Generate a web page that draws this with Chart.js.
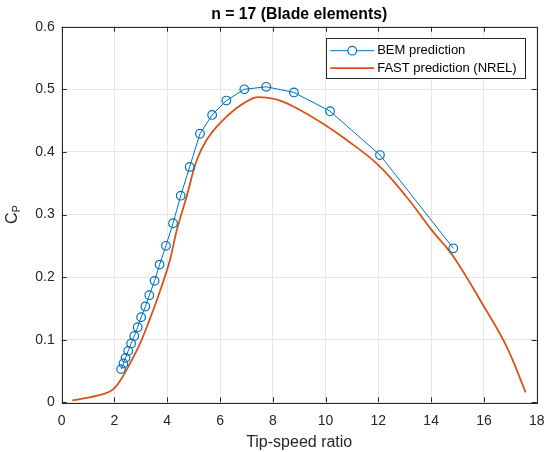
<!DOCTYPE html>
<html>
<head>
<meta charset="utf-8">
<script src="https://cdn.jsdelivr.net/npm/chart.js@4"></script>
<style>
  html, body { margin: 0; padding: 0; background: #fff; }
  #c { display: block; }
</style>
</head>
<body>
<canvas id="c" width="550" height="452"></canvas>
<script>
// ── Data ──────────────────────────────────────────────────────────────────────
const bemTsr = [2.25, 2.34, 2.42, 2.52, 2.63, 2.75, 2.88, 3.01, 3.17, 3.32, 3.52, 3.71, 3.95, 4.22, 4.51, 4.85, 5.24, 5.70, 6.24, 6.92, 7.75, 8.80, 10.17, 12.06, 14.84];
const bemCp  = [0.053, 0.062, 0.071, 0.082, 0.094, 0.106, 0.120, 0.136, 0.153, 0.171, 0.194, 0.220, 0.250, 0.286, 0.330, 0.376, 0.429, 0.459, 0.482, 0.500, 0.504, 0.495, 0.465, 0.395, 0.246];

const fastTsr = [0.4, 1.58, 1.96, 2.27, 2.59, 2.97, 3.35, 3.72, 4.10, 4.36, 4.73, 5.12, 5.49, 6.0, 6.63, 7.26, 7.64, 8.27, 9.03, 9.98, 10.8, 12.0, 13.07, 14.02, 14.84, 16.0, 16.86, 17.58];
const fastCp  = [0.003, 0.013, 0.021, 0.038, 0.062, 0.094, 0.134, 0.177, 0.227, 0.275, 0.328, 0.387, 0.419, 0.446, 0.470, 0.486, 0.487, 0.482, 0.467, 0.443, 0.419, 0.379, 0.328, 0.275, 0.233, 0.153, 0.089, 0.016];

const xTicks = [0, 2, 4, 6, 8, 10, 12, 14, 16, 18];
const yTicks = [0, 0.1, 0.2, 0.3, 0.4, 0.5, 0.6];

const TITLE  = 'n = 17 (Blade elements)';
const XLABEL = 'Tip-speed ratio';
const seriesNames = ['BEM prediction', 'FAST prediction (NREL)'];

const BLUE = '#0072BD', RED = '#D95319', AXIS = '#262626', GRID = '#e6e6e6';
const FONT = '"Liberation Sans", Arial, Helvetica, sans-serif';

const pts = (xs, ys) => xs.map((x, i) => ({ x, y: ys[i] }));

// ── MATLAB-ish decorations: box, inward ticks, title, y label, legend ────────
const decor = {
    id: 'decor',
    afterDraw(chart) {
        const { ctx, chartArea: a, scales: { x, y } } = chart;
        ctx.save();

        // box + inward ticks
        ctx.strokeStyle = AXIS;
        ctx.lineWidth = 1;
        ctx.strokeRect(Math.round(a.left) + 0.5, Math.round(a.top) + 0.5,
                       Math.round(a.right - a.left), Math.round(a.bottom - a.top));
        ctx.beginPath();
        const tl = 5;
        xTicks.forEach(v => {
            const px = Math.round(x.getPixelForValue(v)) + 0.5;
            ctx.moveTo(px, a.bottom); ctx.lineTo(px, a.bottom - tl);
            ctx.moveTo(px, a.top);    ctx.lineTo(px, a.top + tl);
        });
        yTicks.forEach(v => {
            const py = Math.round(y.getPixelForValue(v)) + 0.5;
            ctx.moveTo(a.left, py);  ctx.lineTo(a.left + tl, py);
            ctx.moveTo(a.right, py); ctx.lineTo(a.right - tl, py);
        });
        ctx.stroke();

        // title
        ctx.fillStyle = '#000';
        ctx.font = `bold 15.8px ${FONT}`;
        ctx.textAlign = 'center';
        ctx.textBaseline = 'middle';
        ctx.fillText(TITLE, (a.left + a.right) / 2, 15);

        // x label
        ctx.fillStyle = AXIS;
        ctx.font = `16px ${FONT}`;
        ctx.fillText(XLABEL, (a.left + a.right) / 2, 443);

        // y label: C with subscript P
        ctx.save();
        ctx.translate(12, (a.top + a.bottom) / 2);
        ctx.rotate(-Math.PI / 2);
        ctx.textAlign = 'left';
        ctx.textBaseline = 'alphabetic';
        ctx.font = `11px ${FONT}`;
        const pw = ctx.measureText('P').width;
        ctx.font = `16px ${FONT}`;
        const cw = ctx.measureText('C').width;
        const x0 = -(cw + pw) / 2;
        ctx.fillText('C', x0, 5);
        ctx.font = `11px ${FONT}`;
        ctx.fillText('P', x0 + cw, 8);
        ctx.restore();

        // legend box (northeast)
        const lx = a.right - 211, ly = a.top + 11.5, lw = 199, lh = 40;
        ctx.fillStyle = '#fff';
        ctx.fillRect(lx, ly, lw, lh);
        ctx.strokeStyle = AXIS;
        ctx.lineWidth = 1;
        ctx.strokeRect(Math.round(lx) + 0.5, Math.round(ly) + 0.5, lw, lh);
        const rows = [ly + 12.5, ly + 30];
        chart.data.datasets.forEach((ds, i) => {
            const ry = rows[i];
            ctx.strokeStyle = ds.borderColor;
            ctx.lineWidth = ds.borderWidth;
            ctx.beginPath();
            ctx.moveTo(lx + 4.5, ry); ctx.lineTo(lx + 48.5, ry);
            ctx.stroke();
            if (ds.pointRadius > 0) {
                ctx.lineWidth = ds.pointBorderWidth;
                ctx.fillStyle = '#fff';
                ctx.beginPath();
                ctx.arc(lx + 26.5, ry, ds.pointRadius, 0, Math.PI * 2);
                ctx.fill(); ctx.stroke();
            }
            ctx.fillStyle = '#000';
            ctx.font = `13px ${FONT}`;
            ctx.textAlign = 'left';
            ctx.textBaseline = 'middle';
            ctx.fillText(ds.label, lx + 51.5, ry);
        });

        ctx.restore();
    }
};

new Chart(document.getElementById('c').getContext('2d'), {
    type: 'scatter',
    data: {
        datasets: [
            {
                label: seriesNames[0], data: pts(bemTsr, bemCp), showLine: true,
                borderColor: BLUE, borderWidth: 1, tension: 0,
                pointRadius: 4.3, pointBorderWidth: 1.2, pointBorderColor: BLUE,
                pointBackgroundColor: 'rgba(255,255,255,0)', order: 1
            },
            {
                label: seriesNames[1], data: pts(fastTsr, fastCp), showLine: true,
                borderColor: RED, borderWidth: 1.8, tension: 0.4,
                pointRadius: 0, order: 2
            }
        ]
    },
    options: {
        responsive: false,
        devicePixelRatio: 1,
        animation: false,
        layout: { padding: { top: 26.7, right: 13.3, left: 0, bottom: 0 } },
        plugins: { legend: { display: false }, tooltip: { enabled: false }, title: { display: false } },
        scales: {
            x: {
                type: 'linear', min: 0, max: 18,
                afterBuildTicks: s => { s.ticks = xTicks.map(v => ({ value: v })); },
                afterFit: s => { s.height = 49.7; s.paddingLeft = 0; s.paddingRight = 0; },
                ticks: { color: AXIS, font: { family: FONT, size: 14 }, padding: 10, maxRotation: 0,
                         callback: v => String(v) },
                grid: { color: GRID, drawTicks: false },
                border: { display: false }
            },
            y: {
                type: 'linear', min: 0, max: 0.6,
                afterBuildTicks: s => { s.ticks = yTicks.map(v => ({ value: v })); },
                afterFit: s => { s.width = 61.7; s.paddingTop = 0; s.paddingBottom = 0; },
                ticks: { color: AXIS, font: { family: FONT, size: 14 }, padding: 7,
                         callback: v => v === 0 ? '0' : v.toFixed(1) },
                grid: { color: GRID, drawTicks: false },
                border: { display: false }
            }
        }
    },
    plugins: [decor]
});
</script>
</body>
</html>
